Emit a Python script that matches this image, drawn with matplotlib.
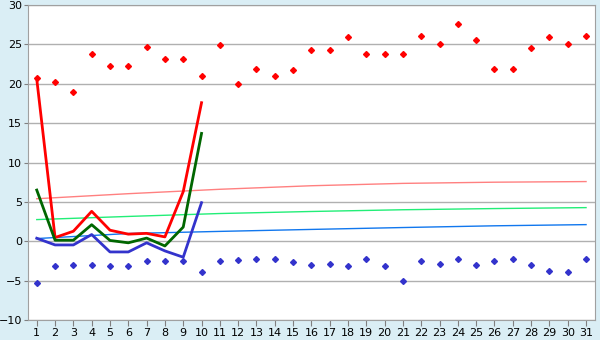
import numpy as np
import matplotlib
matplotlib.use("Agg")
import matplotlib.pyplot as plt

# дані
days = list(range(1, 32))
red_points = [20.8, 20.2, 18.9, 23.8, 22.2, 22.2, 24.7, 23.2, 23.2, 21.05,
              24.9, 20.0, 21.9, 21.05, 21.7, 24.35, 24.35, 26.0, 23.85, 23.85,
              23.85, 26.1, 25.0, 27.6, 25.6, 21.9, 21.9, 24.5, 26.0, 25.1, 26.1]
blue_points = [-5.37, -3.09, -2.96, -2.96, -3.09, -3.2, -2.45, -2.45, -2.45, -3.97,
               -2.45, -2.33, -2.2, -2.2, -2.58, -2.96, -2.83, -3.09, -2.2, -3.2,
               -4.99, -2.45, -2.83, -2.2, -2.96, -2.45, -2.2, -2.96, -3.72, -3.85, -2.2]

line_days = list(range(1, 11))
red_line = [20.6, 0.47, 1.27, 3.8, 1.4, 0.9, 1.0, 0.55, 6.3, 17.6]
green_line = [6.5, 0.13, 0.13, 2.1, 0.1, -0.2, 0.4, -0.6, 1.8, 13.7]
blue_line = [0.38, -0.47, -0.47, 0.85, -1.36, -1.36, -0.2, -1.23, -2.03, 4.9]

# тренди (зчитані кожні 5 днів)
trend_days = [1, 6, 11, 16, 21, 26, 31]
pink_trend = [5.4, 6.04, 6.6, 7.05, 7.35, 7.5, 7.58]
lgreen_trend = [2.75, 3.15, 3.52, 3.78, 4.0, 4.15, 4.27]
lblue_trend = [0.34, 0.98, 1.25, 1.5, 1.74, 1.96, 2.11]

fig = plt.figure(figsize=(6, 3.4), dpi=100)
fig.patch.set_facecolor("#daeef5")
ax = fig.add_axes([0.046, 0.059, 0.946, 0.926])
ax.set_facecolor("white")

ax.set_xlim(0.5, 31.5)
ax.set_ylim(-10, 30)
ax.set_yticks(np.arange(-10, 31, 5))
ax.set_xticks(days)
ax.grid(True, axis="y", color="#b0b0b0", linewidth=1)
ax.set_axisbelow(True)

ax.plot(trend_days, pink_trend, color="#ff8080", linewidth=1)
ax.plot(trend_days, lgreen_trend, color="#22ee77", linewidth=1)
ax.plot(trend_days, lblue_trend, color="#1177ee", linewidth=1)

ax.plot(line_days, red_line, color="#ff0000", linewidth=2)
ax.plot(line_days, green_line, color="#006600", linewidth=2)
ax.plot(line_days, blue_line, color="#3333cc", linewidth=2)

ax.plot(days, red_points, linestyle="none", marker="D", markersize=3, color="#ff0000")
ax.plot(days, blue_points, linestyle="none", marker="D", markersize=3, color="#3333cc")

for s in ax.spines.values():
    s.set_color("#a0a0a0")
ax.tick_params(axis="x", length=4, color="#808080", labelsize=8, pad=2)
ax.tick_params(axis="y", length=3, color="#808080", labelsize=8, pad=1)

fig.savefig("out.png", dpi=100, facecolor=fig.get_facecolor())
